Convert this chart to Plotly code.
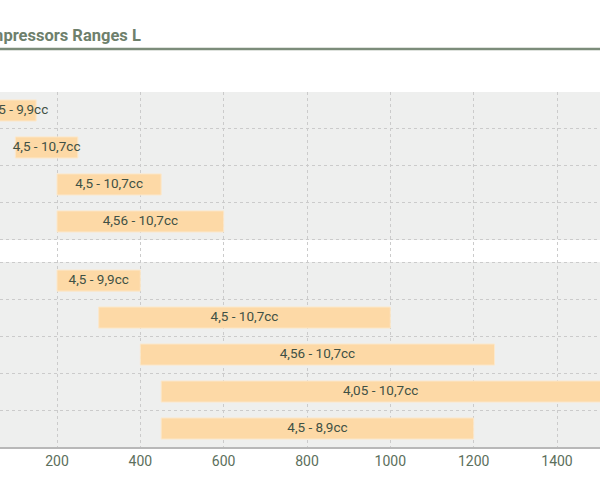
import plotly.graph_objects as go

# ---- data ----
title_text = "Compressors Ranges L"
labels = ["4,5 - 9,9cc", "4,5 - 10,7cc", "4,5 - 10,7cc", "4,56 - 10,7cc",
          "4,5 - 9,9cc", "4,5 - 10,7cc", "4,56 - 10,7cc", "4,05 - 10,7cc", "4,5 - 8,9cc"]
range_start = [0, 100, 200, 200, 200, 300, 400, 450, 450]
range_end = [150, 250, 450, 600, 400, 1000, 1250, 1600, 1200]
group_sizes = [4, 5]
tick_values = [0, 200, 400, 600, 800, 1000, 1200, 1400, 1600]
tick_labels = ["0", "200", "400", "600", "800", "1000", "1200", "1400", "1600"]

# ---- layout helpers ----
X_MIN, X_MAX = 63.2, 1503.2
GAP = 0.6
positions = []
group_spans = []
cur = 0.0
for gi, n in enumerate(group_sizes):
    g0 = cur
    for i in range(n):
        positions.append(cur + 0.5)
        cur += 1
    group_spans.append((g0, cur))
    if gi < len(group_sizes) - 1:
        cur += GAP
Y_MAX = cur
boundaries = []
for g0, g1 in group_spans:
    boundaries += [g0 + k for k in range(int(g1 - g0))]
boundaries = [b for b in boundaries if b > 0]
boundaries += [group_spans[0][1]]
boundaries = sorted(set(boundaries))

lengths = [e - s for s, e in zip(range_start, range_end)]
label_x = [(max(s, X_MIN) + min(e, X_MAX)) / 2 for s, e in zip(range_start, range_end)]

txt_color = "#3f5145"
font_fam = "Roboto, Arial, sans-serif"

fig = go.Figure()
fig.add_trace(go.Bar(
    y=positions, x=lengths, base=range_start, orientation="h", width=0.57,
    marker=dict(color="#fdd9a6", line=dict(color="#fbe8cc", width=1)),
    hoverinfo="skip", showlegend=False,
))
fig.add_trace(go.Scatter(
    y=positions, x=label_x, mode="text", text=labels,
    textfont=dict(family=font_fam, size=13.5, color=txt_color),
    hoverinfo="skip", showlegend=False, cliponaxis=True,
))

shapes = []
for g0, g1 in group_spans:
    shapes.append(dict(type="rect", xref="paper", yref="y", x0=0, x1=1, y0=g0, y1=g1,
                       fillcolor="#eeefee", line=dict(width=0), layer="below"))
plot_h = 492 - 92 - 45
shapes.append(dict(type="line", xref="paper", yref="paper", x0=0, x1=1,
                   y0=1 + (92 - 49) / plot_h, y1=1 + (92 - 49) / plot_h,
                   line=dict(color="#7c8c7a", width=2.5)))

fig.update_layout(
    width=600, height=492,
    margin=dict(l=0, r=0, t=92, b=45),
    paper_bgcolor="white", plot_bgcolor="white",
    shapes=shapes,
    annotations=[dict(text="<b>" + title_text + "</b>", xref="paper", yref="paper",
                      x=143 / 600, y=1 + (92 - 35) / plot_h, xanchor="right", yanchor="middle",
                      showarrow=False,
                      font=dict(family=font_fam, size=16.5, color="#6e806c"))],
    xaxis=dict(range=[X_MIN, X_MAX], tickvals=tick_values, ticktext=tick_labels,
               showgrid=True, gridcolor="#cbcbcb", griddash="dot", gridwidth=1,
               zeroline=False, showline=True, linecolor="#b8b8b8", linewidth=2,
               ticks="", tickfont=dict(family=font_fam, size=14, color="#5c6f5c"),
               fixedrange=True),
    yaxis=dict(range=[Y_MAX, 0], tickvals=boundaries, showticklabels=False,
               showgrid=True, gridcolor="#cbcbcb", griddash="dot", gridwidth=1,
               zeroline=False, showline=False, ticks="", fixedrange=True),
)
fig.write_html("out.html", config={"displayModeBar": False},
               post_script="document.body.style.margin='0';")
